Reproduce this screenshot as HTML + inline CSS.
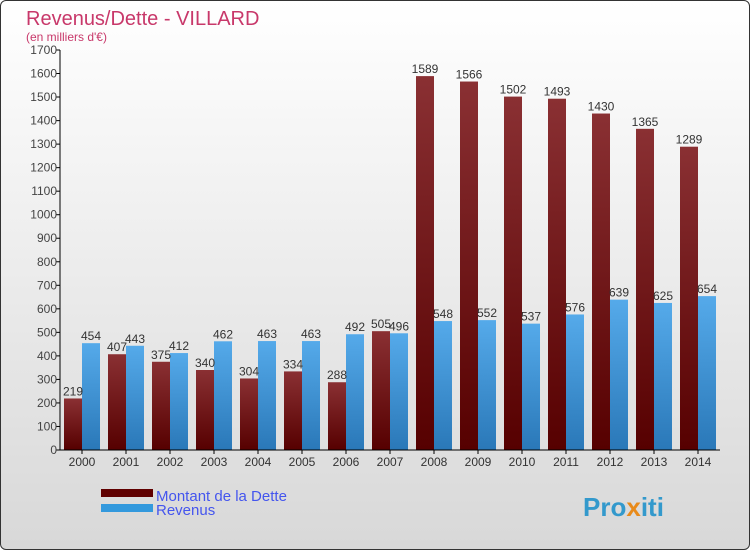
<!DOCTYPE html>
<html><head><meta charset="utf-8"><style>
body{margin:0;}
#c{position:relative;width:748px;height:548px;border:1px solid #333;border-radius:6px;overflow:hidden;background:linear-gradient(#ffffff,#d8d8d8);font-family:"Liberation Sans",sans-serif;}
</style></head><body>
<div id="c">
<svg id="s" width="748" height="548">
<defs>
<linearGradient id="gd" x1="0" y1="0" x2="0" y2="1"><stop offset="0" stop-color="#8a3033"/><stop offset="1" stop-color="#560000"/></linearGradient>
<linearGradient id="gr" x1="0" y1="0" x2="0" y2="1"><stop offset="0" stop-color="#55aaea"/><stop offset="1" stop-color="#2a78b8"/></linearGradient>
</defs>
<text x="25" y="24" font-size="20" fill="#c8386a">Revenus/Dette - VILLARD</text>
<text x="25" y="40" font-size="12" fill="#c8386a">(en milliers d'€)</text>
<g id="g"></g>
<rect x="100" y="488" width="52" height="8" fill="#600000"/>
<rect x="100" y="503" width="52" height="8" fill="#3399dd"/>
<text x="155" y="500" font-size="15" fill="#4455ee">Montant de la Dette</text>
<text x="155" y="514" font-size="15" fill="#4455ee">Revenus</text>
<text x="582" y="515" font-size="26" font-weight="bold" fill="#3399cc">Pro<tspan fill="#e88a1a">x</tspan>iti</text>
</svg></div>
<script>
const years=["2000","2001","2002","2003","2004","2005","2006","2007","2008","2009","2010","2011","2012","2013","2014"];
const dette=[219,407,375,340,304,334,288,505,1589,1566,1502,1493,1430,1365,1289];
const revenus=[454,443,412,462,463,463,492,496,548,552,537,576,639,625,654];
const ticks=[0,100,200,300,400,500,600,700,800,900,1000,1100,1200,1300,1400,1500,1600,1700];
const g=document.getElementById('g');const NS="http://www.w3.org/2000/svg";
const y0=449,y1=49,max=1700,x0=59,step=44;
function Y(v){return y0-(v/max)*(y0-y1);}
function X(i){return x0+step*i+22;}
function mk(t,a,txt){const e=document.createElementNS(NS,t);for(const k in a)e.setAttribute(k,a[k]);if(txt!==undefined)e.textContent=txt;g.appendChild(e);return e;}
ticks.forEach(t=>{
const l=mk('line',{x1:x0-4,x2:x0,y1:Y(t),y2:Y(t),stroke:'#000'});


const tx=mk('text',{x:x0-3,y:Y(t)+4,'font-size':12,fill:'#444','text-anchor':'end'},t);


});
years.forEach((yr,i)=>{
const cx=X(i);
const b1=mk('rect',{x:cx-18,y:Y(dette[i]),width:18,height:y0-Y(dette[i]),fill:'url(#gd)'});


const b2=mk('rect',{x:cx,y:Y(revenus[i]),width:18,height:y0-Y(revenus[i]),fill:'url(#gr)'});


const t1=mk('text',{x:cx-9,y:Y(dette[i])-3,'font-size':12,fill:'#333','text-anchor':'middle'},dette[i]);


const t2=mk('text',{x:cx+9,y:Y(revenus[i])-3,'font-size':12,fill:'#333','text-anchor':'middle'},revenus[i]);


const tk=mk('line',{x1:cx,x2:cx,y1:y0,y2:y0+4,stroke:'#000'});


const xl=mk('text',{x:cx,y:y0+16,'font-size':12,fill:'#333','text-anchor':'middle'},yr);


});
const ya=mk('line',{x1:x0,x2:x0,y1:y1,y2:y0,stroke:'#000'});


const xa=mk('line',{x1:x0,x2:x0+step*years.length,y1:y0,y2:y0,stroke:'#000'});


</script>
</body></html>
